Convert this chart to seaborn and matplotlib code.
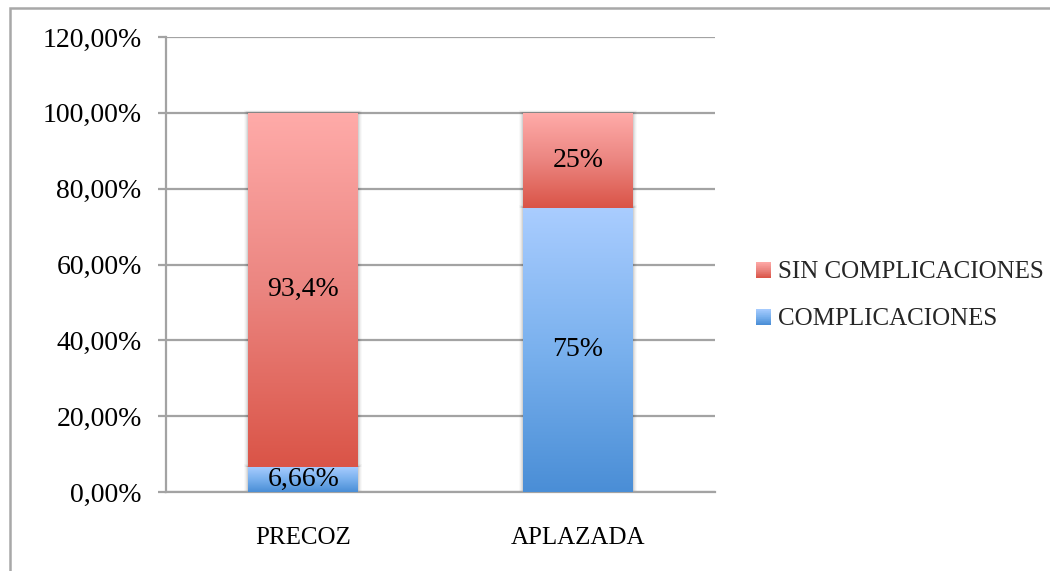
import numpy as np
import pandas as pd
import matplotlib
matplotlib.use("Agg")
import matplotlib.pyplot as plt
import seaborn as sns
from matplotlib.colors import LinearSegmentedColormap
from matplotlib.patches import Rectangle
from matplotlib.legend_handler import HandlerBase

# --- data -------------------------------------------------------------
categorias = ["PRECOZ", "APLAZADA"]
complicaciones = [6.66, 75.0]
sin_complicaciones = [93.4, 25.0]
etiquetas_complicaciones = ["6,66%", "75%"]
etiquetas_sin = ["93,4%", "25%"]
serie_nombres = ["SIN COMPLICACIONES", "COMPLICACIONES"]
yticks = [0, 20, 40, 60, 80, 100, 120]
ytick_labels = ["0,00%", "20,00%", "40,00%", "60,00%", "80,00%", "100,00%", "120,00%"]

# --- style ------------------------------------------------------------
sns.set_theme(style="white")
plt.rcParams["font.family"] = ["Liberation Serif", "DejaVu Serif"]
GRID = "#A3A3A3"
NUM_SIZE = 20
CAP_SIZE = 18

rojo = LinearSegmentedColormap.from_list("rojo", ["#DA5447", "#EB8580", "#FFABA9"])
azul = LinearSegmentedColormap.from_list("azul", ["#4A8ED6", "#7AB1EE", "#AACDFF"])

df = pd.DataFrame({
    "categoria": categorias,
    "comp": complicaciones,
    "sin": sin_complicaciones,
})
df["total"] = df["comp"] + df["sin"]

fig = plt.figure(figsize=(10.5, 5.71), dpi=100)
ax = fig.add_axes([166 / 1050, 1 - 492 / 571, (715 - 166) / 1050, (492 - 37) / 571])

# stacked bars: full height for the upper series, then the lower series on top
sns.barplot(data=df, x="categoria", y="total", color="#E87470", width=0.4,
            ax=ax, zorder=3, saturation=1)
sns.barplot(data=df, x="categoria", y="comp", color="#7AB1EE", width=0.4,
            ax=ax, zorder=4, saturation=1)

n = len(categorias)
bars_top = ax.patches[:n]
bars_bot = ax.patches[n:2 * n]

grad = np.linspace(0, 1, 256).reshape(-1, 1)


def gradient_fill(patch, y0, y1, cmap, z):
    x0 = patch.get_x()
    w = patch.get_width()
    # soft shadow around the bar
    for k, a in [(4, 0.025), (3, 0.035), (2, 0.05), (1, 0.07)]:
        dx = k * (ax.get_xlim()[1] - ax.get_xlim()[0]) / ax.bbox.width
        dy = k * 0.6 * (ax.get_ylim()[1] - ax.get_ylim()[0]) / ax.bbox.height
        ax.add_patch(Rectangle((x0 - dx, y0), w + 2 * dx, y1 - y0 + dy,
                               facecolor="black", alpha=a, edgecolor="none",
                               zorder=2))
    im = ax.imshow(grad, extent=(x0, x0 + w, y0, y1), origin="lower",
                   aspect="auto", cmap=cmap, zorder=z, interpolation="bilinear")
    im.set_clip_path(patch)
    patch.set_facecolor("none")
    patch.set_edgecolor("none")


ax.set_xlim(-0.5, n - 0.5)
ax.set_ylim(0, 120)

for i, (pt, pb) in enumerate(zip(bars_top, bars_bot)):
    gradient_fill(pt, df["comp"][i], df["total"][i], rojo, 3)
    gradient_fill(pb, 0, df["comp"][i], azul, 4)

ax.set_xlim(-0.5, n - 0.5)
ax.set_ylim(0, 120)

# value labels in the middle of each segment
for i in range(n):
    c = df["comp"][i]
    t = df["total"][i]
    ax.text(i, c / 2, etiquetas_complicaciones[i], ha="center", va="center",
            fontsize=NUM_SIZE, color="black", zorder=6)
    ax.text(i, c + (t - c) / 2, etiquetas_sin[i], ha="center", va="center",
            fontsize=NUM_SIZE, color="black", zorder=6)

# axes styling
ax.set_yticks(yticks)
ax.set_yticklabels(ytick_labels, fontsize=NUM_SIZE)
ax.yaxis.grid(True, color=GRID, linewidth=1.6, zorder=0)
ax.set_axisbelow(True)
ax.set_xlabel("")
ax.set_ylabel("")
ax.set_xticks(range(n))
ax.set_xticklabels(categorias, fontsize=CAP_SIZE)
ax.set_xticks([i + 0.5 for i in range(-1, n)], minor=True)
ax.tick_params(axis="x", which="major", length=0, pad=25, colors="black")
ax.tick_params(axis="x", which="minor", length=5.5, width=1.6, color=GRID)
ax.tick_params(axis="y", which="major", length=5.5, width=1.6, color=GRID,
               pad=12, labelcolor="black", left=True)
for side in ["top", "right"]:
    ax.spines[side].set_visible(False)
for side in ["left", "bottom"]:
    ax.spines[side].set_color(GRID)
    ax.spines[side].set_linewidth(1.6)


# legend with gradient swatches
class GradientHandler(HandlerBase):
    def __init__(self, cmap, **kw):
        super().__init__(**kw)
        self.cmap = cmap

    def create_artists(self, legend, orig_handle, xdescent, ydescent,
                       width, height, fontsize, trans):
        steps = 24
        arts = []
        for k in range(steps):
            arts.append(Rectangle((-xdescent, -ydescent + height * k / steps),
                                  width, height / steps * 1.05,
                                  facecolor=self.cmap((k + 0.5) / steps),
                                  edgecolor="none", transform=trans))
        return arts


h_sin = Rectangle((0, 0), 1, 1)
h_com = Rectangle((0, 0), 1, 1)
leg = fig.legend([h_sin, h_com], serie_nombres,
                 handler_map={h_sin: GradientHandler(rojo), h_com: GradientHandler(azul)},
                 loc="center left", bbox_to_anchor=(756 / 1050, 1 - 296 / 571),
                 frameon=False, fontsize=CAP_SIZE, handlelength=0.6, handleheight=0.6,
                 handletextpad=0.28, labelspacing=1.0, borderpad=0, borderaxespad=0)

# outer chart frame
fig.add_artist(Rectangle((10 / 1050, -0.1), 1.2, 1 - 8 / 571 + 0.1,
                         transform=fig.transFigure, facecolor="none",
                         edgecolor="#A8A8A8", linewidth=1.8, zorder=0))

fig.savefig("out.png", dpi=100)
